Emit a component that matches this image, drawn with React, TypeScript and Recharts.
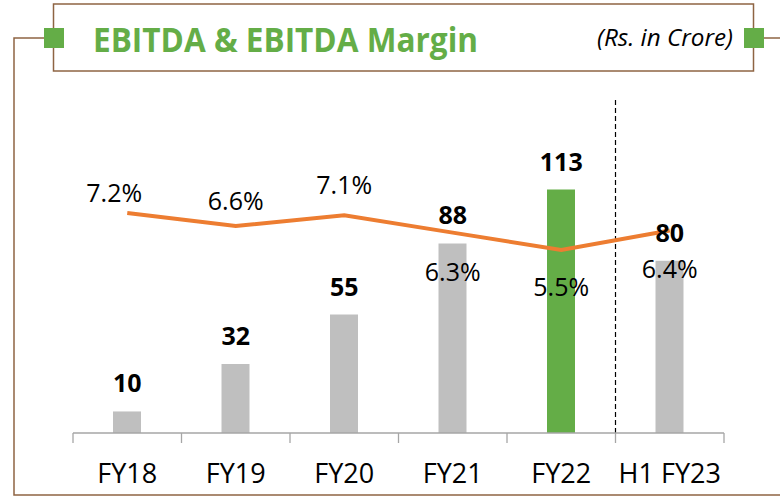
import React from 'react';
import { ComposedChart, Bar, Line, XAxis, YAxis, Cell, LabelList, ReferenceLine } from 'recharts';

const categories = ['FY18', 'FY19', 'FY20', 'FY21', 'FY22', 'H1 FY23'];
const ebitda = [10, 32, 55, 88, 113, 80];
const ebitdaMargin = [7.2, 6.6, 7.1, 6.3, 5.5, 6.4];
const highlightCategory = 'FY22';
const dividerCategory = 'H1 FY23';

const data = categories.map((name, i) => ({ name, ebitda: ebitda[i], margin: ebitdaMargin[i] }));

const W = 780;
const H = 497;
const MARGIN = { top: 97, right: 56, bottom: 0, left: 73 };
const AXIS_H = 64;
const AXIS_Y = H - AXIS_H;
const BAND = (W - MARGIN.left - MARGIN.right) / categories.length;

const FONT = "'Open Sans', sans-serif";
const GREEN = '#64AD47';
const GREY = '#BFBFBF';
const ORANGE = '#ED7D31';
const BROWN = '#8E6443';
const AXIS_GREY = '#A6A6A6';

// label placement relative to line point (label centre)
const MARGIN_LABEL_DX = [-13, 0, 0, 0, 0, 0];
const MARGIN_LABEL_DY = [-20, -25, -30, 39, 37, 39];

const Tick = (props: any) => {
  const { x, payload, index } = props;
  const half = BAND / 2;
  return (
    <g>
      <line x1={x - half} x2={x - half} y1={AXIS_Y} y2={AXIS_Y + 10} stroke={AXIS_GREY} strokeWidth={1.3} />
      {index === categories.length - 1 && (
        <line x1={x + half} x2={x + half} y1={AXIS_Y} y2={AXIS_Y + 10} stroke={AXIS_GREY} strokeWidth={1.3} />
      )}
      <text x={x} y={AXIS_Y + 50} textAnchor="middle" fontSize={27} fontFamily={FONT} fill="#000">
        {payload.value}
      </text>
    </g>
  );
};

const MarginLabel = (props: any) => {
  const { x, y, value, index } = props;
  return (
    <text
      x={x + MARGIN_LABEL_DX[index]}
      y={y + MARGIN_LABEL_DY[index] + 9}
      textAnchor="middle"
      fontSize={25}
      fontFamily={FONT}
      fill="#000"
    >
      {`${Number(value).toFixed(1)}%`}
    </text>
  );
};

const ValueLabel = (props: any) => {
  const { x, y, value } = props;
  return (
    <text x={x} y={y - 19} textAnchor="middle" fontSize={25} fontWeight={700} fontFamily={FONT} fill="#000">
      {value}
    </text>
  );
};

const Frame = () => (
  <svg width={W} height={H} style={{ position: 'absolute', left: 0, top: 0 }}>
    <polyline points={`44,38 14,38 14,495 ${W},495`} fill="none" stroke={BROWN} strokeWidth={1.5} />
    <line x1={763} y1={38} x2={W} y2={38} stroke={BROWN} strokeWidth={1.5} />
    <rect x={53.5} y={4} width={700} height={67} fill="#fff" stroke={BROWN} strokeWidth={1.5} />
    <rect x={44} y={28} width={20} height={20} fill={GREEN} />
    <rect x={744} y={28} width={20} height={20} fill={GREEN} />
    <text
      x={93}
      y={52}
      fontSize={34}
      fontWeight={700}
      fontFamily={FONT}
      fill={GREEN}
      textLength={385}
      lengthAdjust="spacingAndGlyphs"
    >
      EBITDA &amp; EBITDA Margin
    </text>
    <text
      x={597}
      y={46}
      fontSize={23}
      fontStyle="italic"
      fontFamily={FONT}
      fill="#000"
      textLength={136}
      lengthAdjust="spacingAndGlyphs"
    >
      (Rs. in Crore)
    </text>
  </svg>
);

export default function App() {
  return (
    <div style={{ position: 'absolute', left: 0, top: 0, width: W, height: H, background: '#fff' }}>
      <Frame />
      <div style={{ position: 'absolute', left: 0, top: 0 }}>
        <ComposedChart width={W} height={H} data={data} margin={MARGIN}>
          <XAxis
            dataKey="name"
            height={AXIS_H}
            interval={0}
            tickLine={false}
            axisLine={{ stroke: AXIS_GREY, strokeWidth: 1.3 }}
            tick={<Tick />}
          />
          <YAxis yAxisId="left" hide domain={[0, 156]} allowDataOverflow />
          <YAxis yAxisId="right" orientation="right" hide domain={[-2.89, 12.52]} allowDataOverflow />
          <ReferenceLine
            x={dividerCategory}
            yAxisId="left"
            position="start"
            stroke="#000"
            strokeWidth={1.2}
            strokeDasharray="5 3"
          />
          <Bar yAxisId="left" dataKey="ebitda" barSize={28} isAnimationActive={false}>
            {data.map((d) => (
              <Cell key={d.name} fill={d.name === highlightCategory ? GREEN : GREY} />
            ))}
          </Bar>
          <Line
            yAxisId="right"
            dataKey="margin"
            stroke={ORANGE}
            strokeWidth={4}
            dot={false}
            activeDot={false}
            isAnimationActive={false}
          >
            <LabelList dataKey="margin" content={<MarginLabel />} />
          </Line>
          <Line
            yAxisId="left"
            dataKey="ebitda"
            stroke="none"
            dot={false}
            activeDot={false}
            isAnimationActive={false}
          >
            <LabelList dataKey="ebitda" content={<ValueLabel />} />
          </Line>
        </ComposedChart>
      </div>
    </div>
  );
}
